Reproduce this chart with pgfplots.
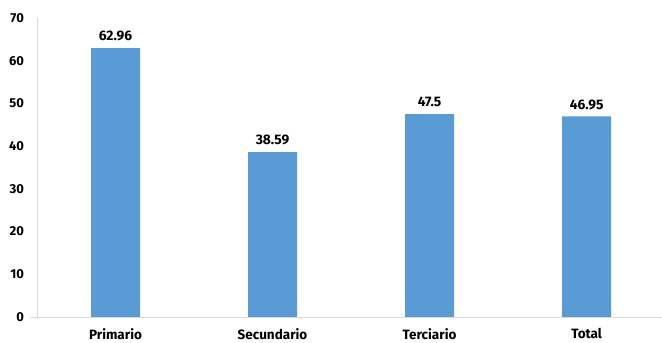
\documentclass[border=0pt]{standalone}
\usepackage{pgfplots}
\pgfplotsset{compat=1.18}
\usepackage{fontspec}
\setmainfont{Fira Sans}
\definecolor{barblue}{HTML}{5B9BD5}
\definecolor{axisgrey}{HTML}{D9D9D9}
\begin{document}
\begin{tikzpicture}[x=1pt,y=1pt]
\useasboundingbox (0,0) rectangle (662,343);
\begin{axis}[
  at={(37pt,26pt)}, anchor=south west,
  scale only axis,
  width=625pt, height=299pt,
  xmin=-0.5, xmax=3.48,
  ymin=0, ymax=70,
  ytick={0,10,...,70},
  xtick={0,1,2,3},
  xticklabels={Primario,Secundario,Terciario,Total},
  axis x line*=bottom,
  axis y line*=left,
  x axis line style={draw=axisgrey, line width=0.8pt, -, shorten <=-7pt},
  y axis line style={draw=axisgrey, line width=0.8pt, -},
  major tick length=0pt,
  tick style={draw=none},
  /pgf/number format/assume math mode=true,
  yticklabel style={font=\fontsize{13}{15}\selectfont\bfseries, xshift=-9.5pt},
  xticklabel style={font=\fontsize{13.5}{15}\selectfont\bfseries,
    inner sep=0pt, yshift=-11pt},
  ybar, bar width=49pt,
  nodes near coords,
  nodes near coords style={font=\fontsize{13.8}{15}\selectfont\bfseries, yshift=3.5pt},
  point meta=explicit symbolic,
]
\addplot[fill=barblue, draw=none] coordinates {
  (0,62.96) [62.96]
  (1,38.59) [38.59]
  (2,47.5) [47.5]
  (3,46.95) [46.95]
};
\end{axis}
\end{tikzpicture}
\end{document}
